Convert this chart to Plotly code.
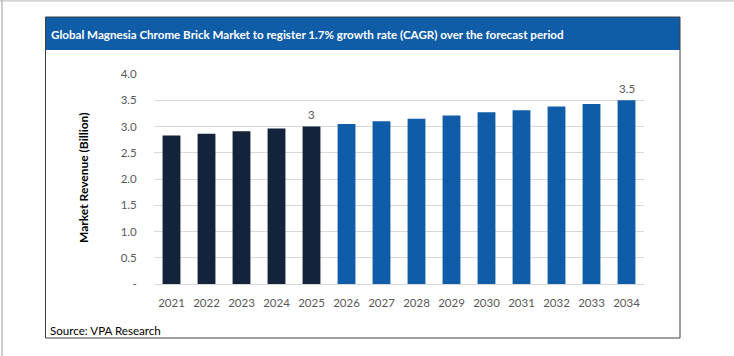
import plotly.graph_objects as go

years = [2021, 2022, 2023, 2024, 2025, 2026, 2027, 2028, 2029, 2030, 2031, 2032, 2033, 2034]
revenue = [2.83, 2.86, 2.91, 2.96, 3.0, 3.05, 3.10, 3.15, 3.21, 3.27, 3.31, 3.38, 3.43, 3.5]
historical_color = "#13233B"
forecast_color = "#0F5DA8"
bar_colors = [historical_color if y <= 2025 else forecast_color for y in years]
labelled_years = [2025, 2034]
label_texts = ["3", "3.5"]
y_tickvals = [0, 0.5, 1.0, 1.5, 2.0, 2.5, 3.0, 3.5, 4.0]
y_ticktext = ["-", "0.5", "1.0", "1.5", "2.0", "2.5", "3.0", "3.5", "4.0"]

title_text = "Global Magnesia Chrome Brick Market to register 1.7% growth rate (CAGR) over the forecast period"
source_text = "Source: VPA Research"
y_title = "Market Revenue (Billion)"

W, H = 734, 356
L, R, T, B = 154, 644, 74, 284  # plot area in pixels


def px(x):
    return (x - L) / (R - L)


def py(y):
    return (B - y) / (B - T)


FONT = "Lato, Carlito, 'Open Sans', sans-serif"

fig = go.Figure()
fig.add_trace(go.Bar(
    x=[str(y) for y in years], y=revenue,
    marker=dict(color=bar_colors, line=dict(width=0)),
    width=0.51, hoverinfo="x+y",
))

annotations = []
for yr, txt in zip(labelled_years, label_texts):
    idx = years.index(yr)
    annotations.append(dict(
        x=idx, y=revenue[idx], xref="x", yref="y",
        text=txt, showarrow=False, yanchor="middle", yshift=12,
        font=dict(family=FONT, size=11.5, color="#595959"),
    ))

annotations += [
    dict(x=px(49), y=py(34), xref="paper", yref="paper", text="<b>" + title_text + "</b>",
         showarrow=False, xanchor="left", yanchor="middle",
         font=dict(family=FONT, size=11.6, color="white")),
    dict(x=px(48), y=py(330), xref="paper", yref="paper", text=source_text,
         showarrow=False, xanchor="left", yanchor="middle",
         font=dict(family=FONT, size=11.6, color="black")),
    dict(x=px(83), y=py(178), xref="paper", yref="paper", text="<b>" + y_title + "</b>",
         showarrow=False, xanchor="center", yanchor="middle", textangle=-90,
         font=dict(family=FONT, size=12, color="black")),
]

shapes = [
    # outer page lines
    dict(type="line", xref="paper", yref="paper", x0=px(0), x1=px(734), y0=py(0.8), y1=py(0.8),
         line=dict(color="#D4D4D4", width=2)),
    dict(type="line", xref="paper", yref="paper", x0=px(2), x1=px(2), y0=py(0), y1=py(356),
         line=dict(color="#BDBDBD", width=1.5)),
    # title band
    dict(type="rect", xref="paper", yref="paper", x0=px(45.5), x1=px(680), y0=py(50), y1=py(17),
         fillcolor="#0F5CA7", line=dict(width=0), layer="below"),
    # chart box
    dict(type="rect", xref="paper", yref="paper", x0=px(45.5), x1=px(680), y0=py(338), y1=py(17),
         fillcolor="rgba(0,0,0,0)", line=dict(color="#404040", width=1)),
]

fig.update_layout(
    width=W, height=H,
    margin=dict(l=L, r=W - R, t=T, b=H - B),
    paper_bgcolor="white", plot_bgcolor="white",
    showlegend=False,
    bargap=0.49,
    annotations=annotations, shapes=shapes,
    xaxis=dict(
        type="category", range=[-0.5, len(years) - 0.5],
        showgrid=False, showline=True, linecolor="#D9D9D9", linewidth=1,
        ticks="outside", ticklen=8, tickcolor="rgba(0,0,0,0)",
        tickfont=dict(family=FONT, size=11.5, color="#595959"), fixedrange=True,
    ),
    yaxis=dict(
        range=[0, 4.0], tickvals=y_tickvals, ticktext=y_ticktext,
        showgrid=True, gridcolor="#D9D9D9", gridwidth=1, zeroline=False,
        ticks="outside", ticklen=14, tickcolor="rgba(0,0,0,0)",
        tickfont=dict(family=FONT, size=11.5, color="#595959"), fixedrange=True,
    ),
)

fig.write_html("out.html", config={"displayModeBar": False},
               post_script="document.body.style.margin='0';document.body.style.padding='0';")
